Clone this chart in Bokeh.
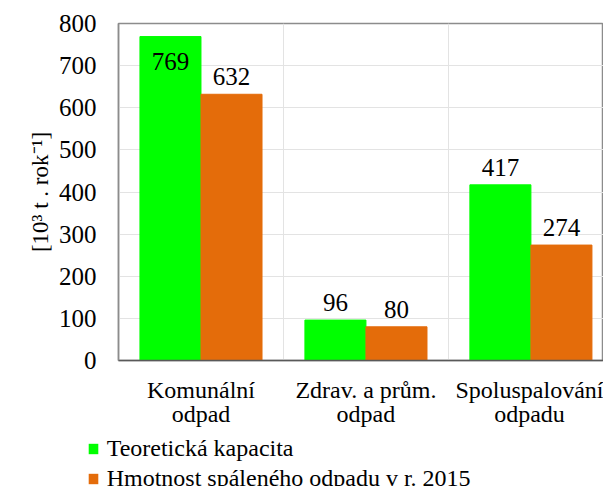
from bokeh.plotting import figure
from bokeh.layouts import column
from bokeh.models import (ColumnDataSource, Range1d, FixedTicker, Legend, LegendItem,
                          LabelSet, Title)
from bokeh.embed import file_html
from bokeh.resources import INLINE

categories = ["Komunální\nodpad", "Zdrav. a prům.\nodpad", "Spoluspalování\nodpadu"]
capacity = [769, 96, 417]
burned = [632, 80, 274]
series_names = ["Teoretická kapacita", "Hmotnost spáleného odpadu v r. 2015"]
y_ticks = [0, 100, 200, 300, 400, 500, 600, 700, 800]
y_title = "[10³ t . rok⁻¹]"

GREEN = "#00FF00"
ORANGE = "#E46C0A"
FONT = "Liberation Serif"

centers = [i + 0.5 for i in range(len(categories))]
bw = 0.37

src_a = ColumnDataSource(dict(x=[c - bw / 2 for c in centers], top=capacity))
src_b = ColumnDataSource(dict(x=[c + bw / 2 for c in centers], top=burned))

p = figure(frame_width=485, frame_height=337, output_backend="svg", toolbar_location=None,
           x_range=Range1d(0, 2.94), y_range=Range1d(0, 800),
           min_border_left=118, min_border_right=0, min_border_top=23,
           min_border_bottom=0)
p.background_fill_color = "white"
p.border_fill_color = "white"
p.outline_line_color = "#8c8c8c"
p.outline_line_width = 1.5

ra = p.vbar(x="x", top="top", width=bw, source=src_a, fill_color=GREEN, line_color=GREEN)
rb = p.vbar(x="x", top="top", width=bw, source=src_b, fill_color=ORANGE, line_color=ORANGE)

def split(vals, xs):
    above = dict(x=[], y=[], t=[])
    inside = dict(x=[], y=[], t=[])
    for x, v in zip(xs, vals):
        d = inside if v > 700 else above
        d["x"].append(x); d["y"].append(v); d["t"].append(str(v))
    return above, inside

ab1, in1 = split(capacity, src_a.data["x"])
ab2, in2 = split(burned, src_b.data["x"])
above = {k: ab1[k] + ab2[k] for k in ab1}
inside = {k: in1[k] + in2[k] for k in in1}

ls1 = LabelSet(x="x", y="y", text="t", source=ColumnDataSource(above),
               text_align="center", text_baseline="alphabetic", y_offset=9,
               text_font=FONT, text_font_size="25px", text_color="#000000")
ls2 = LabelSet(x="x", y="y", text="t", source=ColumnDataSource(inside),
               text_align="center", text_baseline="alphabetic", y_offset=-33,
               text_font=FONT, text_font_size="25px", text_color="#000000")
p.add_layout(ls1)
p.add_layout(ls2)

p.xaxis.ticker = FixedTicker(ticks=centers)
p.xaxis.major_label_overrides = {c: lab for c, lab in zip(centers, categories)}
p.xaxis.major_tick_line_color = None
p.xaxis.minor_tick_line_color = None
p.xaxis.major_tick_out = 0
p.xaxis.major_tick_in = 0
p.xaxis.axis_line_color = "#595959"
p.xaxis.axis_line_width = 1.5
p.xaxis.major_label_text_font = FONT
p.xaxis.major_label_text_font_size = "24px"
p.xaxis.major_label_text_line_height = 0.95
p.xaxis.major_label_text_color = "#000000"
p.xaxis.major_label_standoff = 16

p.yaxis.ticker = FixedTicker(ticks=y_ticks)
p.yaxis.major_tick_line_color = None
p.yaxis.minor_tick_line_color = None
p.yaxis.major_tick_out = 0
p.yaxis.major_tick_in = 0
p.yaxis.axis_line_color = "#8c8c8c"
p.yaxis.axis_line_width = 1.5
p.yaxis.major_label_text_font = FONT
p.yaxis.major_label_text_font_size = "25px"
p.yaxis.major_label_text_color = "#000000"
p.yaxis.major_label_standoff = 22

p.add_layout(Title(text=y_title, align="center", offset=17,
                   text_font=FONT, text_font_size="23px",
                   text_font_style="normal", text_color="#000000",
                   standoff=6), "left")

p.ygrid.ticker = FixedTicker(ticks=y_ticks)
p.ygrid.grid_line_color = "#e3e3e3"
p.xgrid.ticker = FixedTicker(ticks=[1, 2])
p.xgrid.grid_line_color = "#e3e3e3"

# legend strip below the chart (its bars lie outside its visible range)
p2 = figure(frame_width=514, frame_height=62, output_backend="svg", toolbar_location=None,
            x_range=Range1d(10, 11), y_range=Range1d(2000, 3000),
            min_border_left=89, min_border_right=0, min_border_top=0, min_border_bottom=0,
            x_axis_location=None, y_axis_location=None)
p2.outline_line_color = None
p2.xgrid.visible = False
p2.ygrid.visible = False
la = p2.vbar(x="x", top="top", width=bw, source=src_a, fill_color=GREEN, line_color=None)
lb = p2.vbar(x="x", top="top", width=bw, source=src_b, fill_color=ORANGE, line_color=None)
legend = Legend(items=[LegendItem(label=series_names[0], renderers=[la]),
                       LegendItem(label=series_names[1], renderers=[lb])],
                orientation="vertical", location=(57, 0),
                label_text_font=FONT, label_text_font_size="24px",
                label_text_color="#000000", label_height=24,
                glyph_width=12, glyph_height=13, label_standoff=8,
                spacing=3, padding=0, margin=0,
                border_line_color=None, background_fill_alpha=0)
p2.add_layout(legend, "center")

open("out.html", "w").write(file_html(column(p, p2), INLINE))
